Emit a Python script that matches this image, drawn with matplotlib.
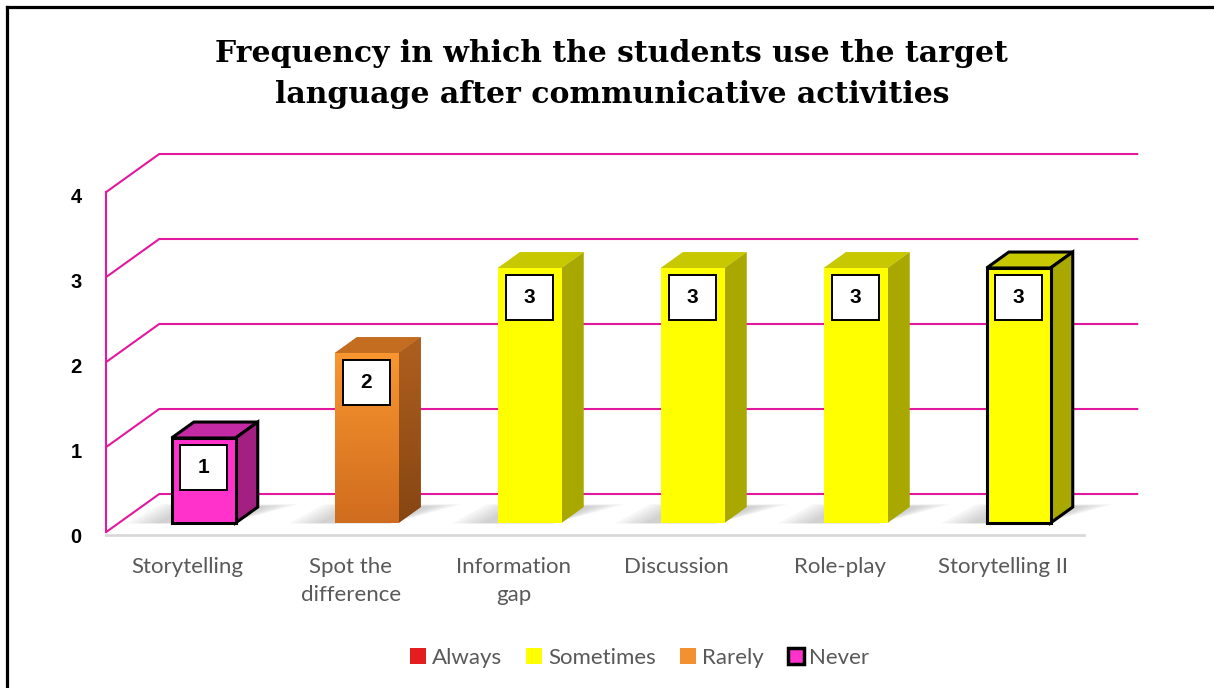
import numpy as np
import matplotlib.pyplot as plt
from matplotlib.colors import LinearSegmentedColormap
from matplotlib.patches import Polygon, Rectangle, Patch
from matplotlib.lines import Line2D

categories = ["Storytelling", "Spot the\ndifference", "Information\ngap",
              "Discussion", "Role-play", "Storytelling II"]
values = [1, 2, 3, 3, 3, 3]
answers = ["Never", "Rarely", "Sometimes", "Sometimes", "Sometimes", "Sometimes"]
outlined = [True, False, False, False, False, True]
legend_labels = ["Always", "Sometimes", "Rarely", "Never"]
yticks = [0, 1, 2, 3, 4]

# front / top / side colours for each answer
faces = {
    "Always": ("#E41E1E", "#B01515", "#8E1010"),
    "Sometimes": ("#FFFF00", "#C8C800", "#A8A800"),
    "Rarely": ("#F39030", "#C46C20", "#9A5418"),
    "Never": ("#FF33CC", "#C42AA4", "#A32082"),
}
GRID = "#E2189E"
TXT = "#595959"
NUMFONT = "Liberation Sans"

# fake 3d: floor depth vector and bar slab position along it
DX, DY = 0.325, 0.447
Z0, Z1 = 0.237, 0.657
HALF = 0.196
XL, XR = -0.52, 5.48


def proj(x, v, z):
    return (x + z * DX, v + z * DY)


fig = plt.figure(figsize=(12.14, 6.88), dpi=100)
ax = fig.add_axes([0, 0, 1, 1])
xlim = (-191 / 163, (1214 - 191) / 163)
ylim = (-(688 - 532) / 85, 532 / 85)
ax.axis("off")

# walls and gridlines
for v in yticks:
    pts = np.array([proj(XL, v, 0), proj(XL, v, 1), proj(XR, v, 1)])
    ax.plot(pts[:, 0], pts[:, 1], color=GRID, lw=1.5, zorder=1)
    ax.text(-0.706, v - 0.06, str(v), ha="center", va="center",
            fontsize=14.5, fontweight="bold", family=NUMFONT, color="black")
p = np.array([proj(XL, 0, 0), proj(XL, yticks[-1], 0)])
ax.plot(p[:, 0], p[:, 1], color=GRID, lw=1.5, zorder=1)
ax.plot([XL, XR], [-0.035, -0.035], color="#D9D9D9", lw=2, zorder=1)

grad = np.linspace(0, 1, 64).reshape(-1, 1)

# bars
for i, (v, a, edge) in enumerate(zip(values, answers, outlined)):
    front, top, side = faces[a]
    x0, x1 = i - HALF, i + HALF

    # soft shadow on the floor, darkest next to the base
    for k in range(6):
        e = k * 0.035
        sh = [proj(x0 - 0.1 - e, 0, Z0 - 0.01), proj(x1 - 0.05, 0, Z0 - 0.01),
              proj(x1 + 0.05 + e, 0, Z1 + 0.02 + e * 0.3), proj(x0 - 0.05 - e, 0, Z1 + 0.02 + e * 0.3)]
        ax.add_patch(Polygon(sh, closed=True, facecolor="#707070", edgecolor="none",
                             alpha=0.06, zorder=2))

    lw = 2.2 if edge else 0
    ec = "black" if edge else "none"
    bar = ax.bar(i + Z0 * DX, v, bottom=Z0 * DY, width=2 * HALF, color=front,
                 edgecolor=ec, linewidth=lw, zorder=4)[0]
    bar.set_joinstyle("miter")
    top_poly = [proj(x0, v, Z0), proj(x1, v, Z0), proj(x1, v, Z1), proj(x0, v, Z1)]
    side_poly = [proj(x1, 0, Z0), proj(x1, 0, Z1), proj(x1, v, Z1), proj(x1, v, Z0)]
    tp = Polygon(top_poly, closed=True, facecolor=top, edgecolor=ec, lw=lw,
                 joinstyle="miter", zorder=3)
    sp = Polygon(side_poly, closed=True, facecolor=side, edgecolor=ec, lw=lw,
                 joinstyle="miter", zorder=3)
    ax.add_patch(tp)
    ax.add_patch(sp)

    if a == "Rarely":
        # orange faces are shaded from top to bottom
        bx0, by0 = proj(x0, 0, Z0)
        bx1, by1 = proj(x1, v, Z0)
        cmap = LinearSegmentedColormap.from_list("o", ["#F8962F", "#D06C1E"])
        im = ax.imshow(grad, extent=(bx0, bx1, by0, by1), cmap=cmap,
                       aspect="auto", zorder=4.5)
        im.set_clip_path(bar)
        sx0 = proj(x1, 0, Z0)[0]
        sx1 = proj(x1, 0, Z1)[0]
        cmap2 = LinearSegmentedColormap.from_list("s", ["#AE5F1E", "#874613"])
        im2 = ax.imshow(grad, extent=(sx0, sx1, Z0 * DY, v + Z1 * DY), cmap=cmap2,
                        aspect="auto", zorder=3.5)
        im2.set_clip_path(sp)

    # value box
    cx = i + Z0 * DX
    cy = v + Z0 * DY - 0.35
    bw, bh = 47 / 163, 45 / 85
    ax.add_patch(Rectangle((cx - bw / 2, cy - bh / 2), bw, bh, facecolor="white",
                           edgecolor="black", lw=1.4, zorder=6))
    ax.text(cx, cy, str(v), ha="center", va="center", fontsize=15,
            fontweight="bold", family=NUMFONT, zorder=7)

    ax.text(i - 0.02, -0.29, categories[i], ha="center", va="top", fontsize=16,
            family="Lato", color=TXT, linespacing=1.55)

ax.set_xlim(*xlim)
ax.set_ylim(*ylim)

fig.text(0.504, 1 - 74 / 688,
         "Frequency in which the students use the target\nlanguage after communicative activities",
         ha="center", va="center", fontsize=21.5, fontweight="bold",
         family="DejaVu Serif", linespacing=1.5)

handles = []
for lab in legend_labels:
    ec = "black" if lab == "Never" else "none"
    handles.append(Patch(facecolor=faces[lab][0], edgecolor=ec,
                         lw=2.5 if lab == "Never" else 0))
leg = fig.legend(handles, legend_labels, loc="center", bbox_to_anchor=(0.527, 1 - 658 / 688),
                 ncol=4, frameon=False, handlelength=0.72, handleheight=0.72,
                 handletextpad=0.25, columnspacing=1.1,
                 prop={"family": "Lato", "size": 16})
for t in leg.get_texts():
    t.set_color(TXT)

# outer frame on the left and top
fig.add_artist(Line2D([7 / 1214, 7 / 1214], [0, 1 - 7 / 688], color="black", lw=2.3))
fig.add_artist(Line2D([7 / 1214, 1], [1 - 7 / 688, 1 - 7 / 688], color="black", lw=2.3))

fig.savefig("out.png", dpi=100)
